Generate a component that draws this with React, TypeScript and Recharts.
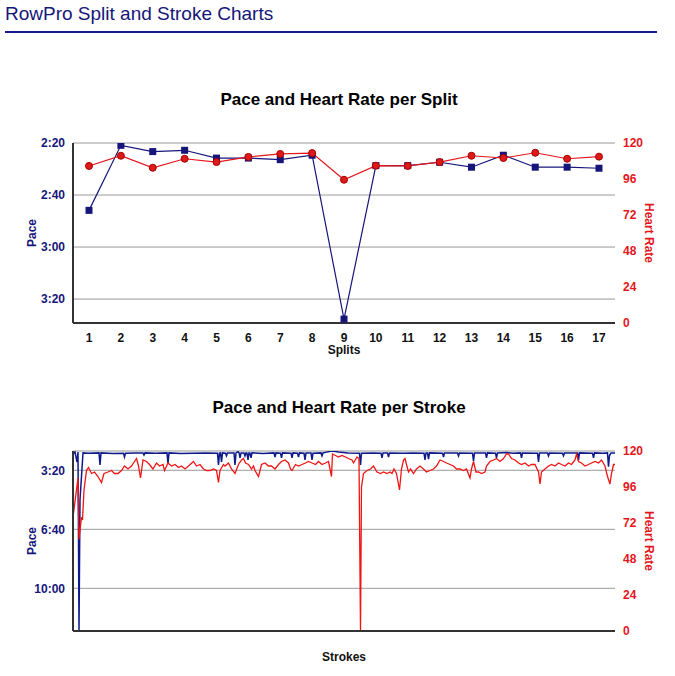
import { ComposedChart, Line, XAxis, YAxis, CartesianGrid } from "recharts"

const NAVY = "#16167a"
const RED = "#e4161c"
const FONT = '"Liberation Sans", Arial, Helvetica, sans-serif'

// split chart
const splits = [1, 2, 3, 4, 5, 6, 7, 8, 9, 10, 11, 12, 13, 14, 15, 16, 17]
const splitPace = [165.9, 140.9, 143.3, 142.8, 145.8, 145.8, 146.4, 144.7, 207.7, 148.7, 148.7, 147.4, 149.3, 144.7, 149.3, 149.3, 149.7]
const splitHeartRate = [104.7, 111.5, 103.5, 109.5, 107.3, 110.7, 112.7, 113.3, 95.5, 104.9, 104.7, 107.3, 111.5, 110, 113.5, 109.5, 110.9]
const splitPaceTicks = [140, 160, 180, 200]

// stroke chart
const strokePaceX = [
  0, 4, 8, 10, 12, 14, 20, 30, 52, 54, 56, 80, 101, 103, 105, 125, 140, 142, 144, 165, 188, 190, 192, 215, 240, 265,
  289, 291, 293, 295, 297, 299, 305, 307, 309, 322, 324, 326, 330, 332, 334, 336, 342, 344, 346, 348, 350, 352, 354,
  356, 358, 380, 402, 404, 406, 415, 417, 419, 436, 438, 440, 449, 451, 453, 462, 464, 466, 476, 478, 480, 496, 498,
  500, 518, 531, 550, 573, 575, 577, 600, 616, 618, 620, 629, 631, 633, 660, 680, 702, 704, 706, 709, 711, 713, 739,
  741, 743, 769, 771, 773, 799, 801, 803, 825, 827, 829, 845, 847, 849, 867, 880, 895, 897, 899, 929, 931, 933, 949,
  951, 953, 979, 981, 983, 1009, 1011, 1013, 1039, 1041, 1043, 1060, 1069, 1071, 1073, 1076, 1084,
]
const strokePace = [
  145, 138, 172, 138, 741, 300, 141, 142, 141, 182, 141, 143, 142, 155, 142, 141, 141, 148, 141, 142, 141, 178, 141, 143, 142, 141,
  142, 182, 142, 141, 172, 141, 142, 151, 141, 141, 182, 141, 137, 140, 158, 141, 141, 151, 141, 142, 165, 141, 142,
  158, 141, 143, 141, 155, 141, 142, 158, 141, 142, 158, 141, 142, 155, 141, 142, 165, 141, 141, 165, 142, 141, 151,
  141, 135, 138, 141, 142, 182, 142, 141, 142, 158, 141, 141, 155, 141, 142, 141, 142, 165, 141, 141, 162, 141, 142,
  155, 141, 141, 151, 141, 142, 168, 141, 141, 158, 141, 142, 158, 141, 140, 142, 141, 158, 141, 142, 172, 141, 141,
  151, 141, 142, 151, 141, 141, 165, 141, 142, 158, 141, 142, 141, 188, 150, 141, 141,
]
const strokeHrX = [
  0, 10, 12, 17, 19, 22, 27, 31, 37, 43, 50, 57, 62, 70, 77, 83, 90, 97, 103, 110, 117, 123, 127, 131, 135, 140, 147,
  153, 160, 167, 173, 180, 183, 190, 197, 204, 211, 217, 224, 231, 241, 247, 254, 261, 267, 274, 281, 287, 291, 294,
  301, 304, 311, 317, 324, 331, 337, 341, 345, 351, 357, 361, 364, 371, 377, 384, 391, 397, 404, 411, 417, 424, 431,
  435, 438, 445, 451, 458, 465, 471, 478, 485, 491, 498, 505, 511, 517, 519, 525, 531, 538, 545, 551, 558, 561, 568,
  572, 575, 577, 581, 588, 595, 601, 608, 615, 621, 628, 634, 638, 642, 647, 653, 657, 661, 664, 667, 671, 675, 681,
  687, 694, 701, 707, 714, 721, 727, 734, 741, 747, 754, 761, 767, 774, 781, 787, 794, 797, 801, 806, 811, 817, 824,
  827, 834, 841, 847, 854, 861, 867, 871, 877, 884, 891, 897, 904, 911, 917, 924, 931, 934, 937, 944, 951, 957, 964,
  971, 977, 984, 991, 997, 1004, 1007, 1011, 1017, 1024, 1031, 1037, 1044, 1051, 1057, 1064, 1069, 1074, 1077, 1081, 1084,
]
const strokeHr = [
  76, 102, 61, 76, 74, 94, 107, 109, 105, 106, 103, 99, 105, 106, 107, 105, 105, 107, 110, 108, 110, 113, 115, 110, 102, 114, 113,
  111, 108, 112, 110, 111, 107, 112, 110, 111, 109, 110, 108, 110, 113, 110, 111, 108, 107, 107, 108, 107, 99, 107,
  111, 110, 112, 108, 105, 111, 114, 115, 112, 111, 108, 110, 107, 103, 111, 112, 110, 110, 108, 111, 113, 114, 112,
  108, 107, 111, 110, 111, 112, 113, 112, 111, 113, 111, 112, 113, 103, 118, 117, 116, 117, 116, 115, 114, 112, 116,
  115, 0, 96, 105, 107, 108, 110, 106, 105, 106, 105, 106, 105, 108, 105, 94, 108, 114, 115, 111, 106, 108, 105,
  108, 110, 108, 106, 107, 108, 110, 114, 113, 112, 111, 110, 108, 108, 107, 108, 102, 108, 113, 106, 106, 105, 106,
  110, 113, 114, 115, 113, 115, 118, 118, 115, 114, 112, 111, 112, 110, 111, 111, 106, 98, 106, 108, 110, 111, 110,
  112, 111, 110, 112, 111, 114, 118, 113, 112, 110, 111, 112, 113, 112, 114, 110, 103, 98, 105, 111, 111,
]
const strokePaceTicks = [200, 400, 600]
const heartRateTicks = [0, 24, 48, 72, 96, 120]

const splitData = splits.map((s, i) => ({ split: s, pace: splitPace[i], hr: splitHeartRate[i] }))
const strokePaceData = strokePaceX.map((s, i) => ({ stroke: s, pace: strokePace[i] }))
const strokeHrData = strokeHrX.map((s, i) => ({ stroke: s, hr: strokeHr[i] }))

const fmtPace = (v: number) => {
  const m = Math.floor(v / 60)
  const s = Math.round(v % 60)
  return `${m}:${String(s).padStart(2, "0")}`
}

const boldTick = (fill: string) => ({ fill, fontSize: 12, fontWeight: "bold", fontFamily: FONT })
const axisStroke = { stroke: "#333", strokeWidth: 2 }

const SquareDot = (props: any) => {
  const { cx, cy, index } = props
  if (cx == null || cy == null) return null
  return <rect key={`sq-${index}`} x={cx - 3.5} y={cy - 3.5} width={7} height={7} fill={NAVY} />
}

const titleStyle: React.CSSProperties = {
  position: "absolute",
  left: 0,
  width: 678,
  textAlign: "center",
  fontSize: 17,
  fontWeight: "bold",
  lineHeight: "20px",
  color: "#000",
}

export default function App() {
  return (
    <div style={{ position: "absolute", left: 0, top: 0, width: 675, height: 676, background: "#fff", fontFamily: FONT }}>
      <div style={{ position: "absolute", left: 5, top: 3, fontSize: 19, color: NAVY }}>RowPro Split and Stroke Charts</div>
      <div style={{ position: "absolute", left: 5, top: 31, width: 652, height: 2, background: "#1a1a8a" }} />

      <div style={{ ...titleStyle, top: 90 }}>Pace and Heart Rate per Split</div>
      <div style={{ position: "absolute", left: 0, top: 130 }}>
        <ComposedChart width={675} height={240} data={splitData} margin={{ top: 13, right: 0, bottom: 0, left: 0 }}>
          <CartesianGrid yAxisId="pace" vertical={false} stroke="#999" />
          <XAxis
            dataKey="split"
            height={47}
            interval={0}
            padding={{ left: 16, right: 16 }}
            tickLine={false}
            tickMargin={4}
            axisLine={axisStroke}
            tick={boldTick("#111")}
            label={{ value: "Splits", position: "insideBottom", offset: 16, fill: "#111", fontSize: 12, fontWeight: "bold" }}
          />
          <YAxis
            yAxisId="pace"
            orientation="left"
            width={73}
            reversed
            domain={[140, 209.2]}
            ticks={splitPaceTicks}
            allowDataOverflow
            tickFormatter={fmtPace}
            tickLine={false}
            axisLine={axisStroke}
            tick={boldTick(NAVY)}
            label={{ value: "Pace", angle: -90, position: "insideLeft", offset: 32, fill: NAVY, fontSize: 12, fontWeight: "bold", style: { textAnchor: "middle" } }}
          />
          <YAxis
            yAxisId="hr"
            orientation="right"
            width={60}
            domain={[0, 120]}
            ticks={heartRateTicks}
            tickLine={false}
            axisLine={false}
            tick={boldTick(RED)}
            label={{ value: "Heart Rate", angle: 90, position: "insideRight", offset: 26, fill: RED, fontSize: 12, fontWeight: "bold", style: { textAnchor: "middle" } }}
          />
          <Line yAxisId="pace" dataKey="pace" stroke={NAVY} strokeWidth={1.2} dot={<SquareDot />} activeDot={false} isAnimationActive={false} />
          <Line
            yAxisId="hr"
            dataKey="hr"
            stroke={RED}
            strokeWidth={1.2}
            dot={{ r: 3.5, fill: "#dd1a1a", stroke: "#a00", strokeWidth: 1 }}
            activeDot={false}
            isAnimationActive={false}
          />
        </ComposedChart>
      </div>

      <div style={{ ...titleStyle, top: 398 }}>Pace and Heart Rate per Stroke</div>
      <div style={{ position: "absolute", left: 0, top: 438 }}>
        <ComposedChart width={675} height={238} margin={{ top: 13, right: 0, bottom: 0, left: 0 }}>
          <CartesianGrid yAxisId="pace" vertical={false} stroke="#999" />
          <XAxis
            dataKey="stroke"
            type="number"
            domain={[0, 1084]}
            height={45}
            tick={false}
            tickLine={false}
            axisLine={axisStroke}
            label={{ value: "Strokes", position: "insideBottom", offset: 15, fill: "#111", fontSize: 12, fontWeight: "bold" }}
          />
          <YAxis
            yAxisId="pace"
            orientation="left"
            width={73}
            reversed
            domain={[134.6, 744.7]}
            ticks={strokePaceTicks}
            allowDataOverflow
            tickFormatter={fmtPace}
            tickLine={false}
            axisLine={axisStroke}
            tick={boldTick(NAVY)}
            label={{ value: "Pace", angle: -90, position: "insideLeft", offset: 32, fill: NAVY, fontSize: 12, fontWeight: "bold", style: { textAnchor: "middle" } }}
          />
          <YAxis
            yAxisId="hr"
            orientation="right"
            width={60}
            domain={[0, 120]}
            ticks={heartRateTicks}
            tickLine={false}
            axisLine={false}
            tick={boldTick(RED)}
            label={{ value: "Heart Rate", angle: 90, position: "insideRight", offset: 26, fill: RED, fontSize: 12, fontWeight: "bold", style: { textAnchor: "middle" } }}
          />
          <Line yAxisId="pace" data={strokePaceData} dataKey="pace" stroke="#0d1a8c" strokeWidth={1.5} dot={false} activeDot={false} isAnimationActive={false} />
          <Line yAxisId="hr" data={strokeHrData} dataKey="hr" stroke="#f01414" strokeWidth={1.3} dot={false} activeDot={false} isAnimationActive={false} />
        </ComposedChart>
      </div>
    </div>
  )
}
